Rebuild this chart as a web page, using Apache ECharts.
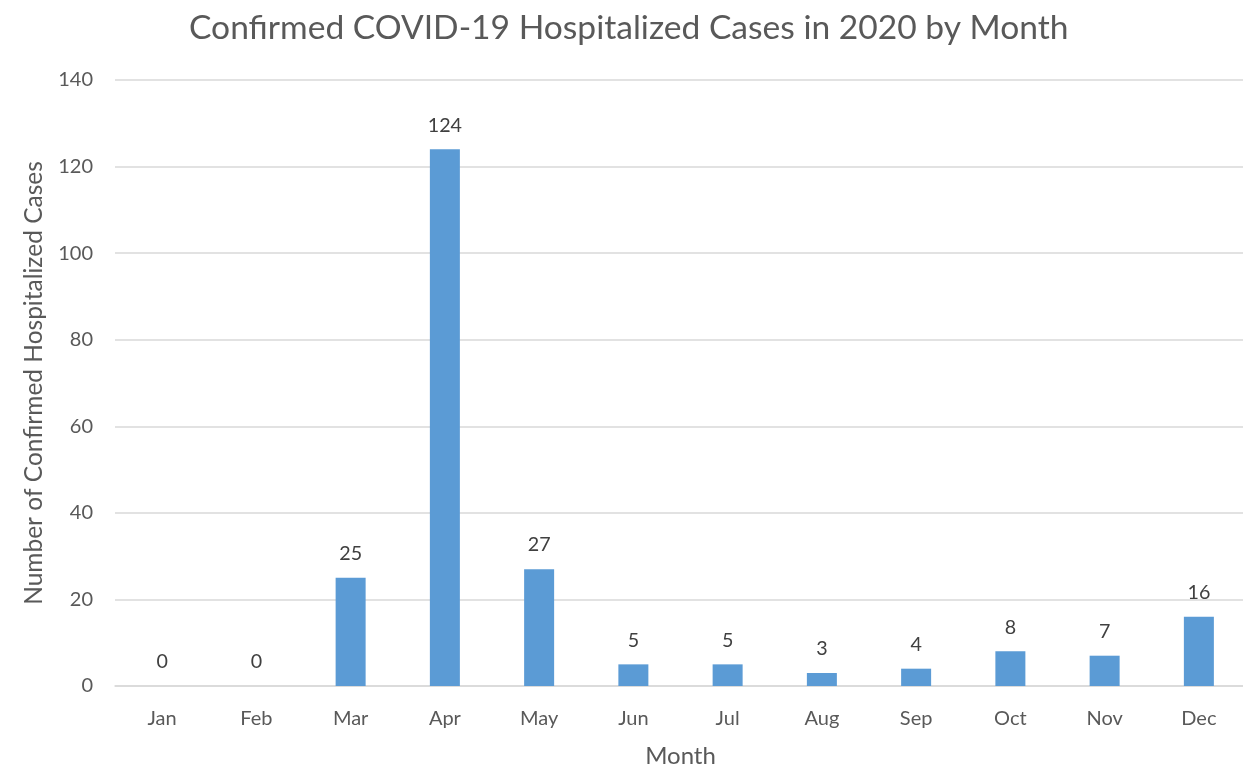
<!DOCTYPE html>
<html>
<head>
<meta charset="utf-8">
<script src="https://cdn.jsdelivr.net/npm/echarts@6/dist/echarts.min.js"></script>
<style>html,body{margin:0;padding:0;background:#fff}#c{width:1243px;height:767px}</style>
</head>
<body>
<div id="c"></div>
<script>
const categories = ['Jan','Feb','Mar','Apr','May','Jun','Jul','Aug','Sep','Oct','Nov','Dec'];
const cases = [0,0,25,124,27,5,5,3,4,8,7,16];
const yTicks = {min:0, max:140, interval:20};

const FONT = 'Lato, "Open Sans", sans-serif';
const chart = echarts.init(document.getElementById('c'));
chart.setOption({
  backgroundColor:'#ffffff',
  animation:false,
  textStyle:{fontFamily:FONT},
  title:{
    text:'Confirmed COVID-19 Hospitalized Cases in 2020 by Month',
    left:184, top:6,
    textStyle:{fontFamily:FONT, fontSize:33.6, fontWeight:'normal', color:'#595959'}
  },
  grid:{left:115, right:-3, top:80, bottom:81, containLabel:false, outerBoundsMode:'none'},
  xAxis:{
    type:'category', data:categories,
    name:'Month', nameLocation:'middle', nameGap:58,
    nameTextStyle:{fontFamily:FONT, fontSize:24, color:'#595959'},
    axisLine:{lineStyle:{color:'#d9d9d9', width:1.5}},
    axisTick:{show:false},
    axisLabel:{fontFamily:FONT, fontSize:20, color:'#595959', margin:23}
  },
  yAxis:{
    type:'value', min:yTicks.min, max:yTicks.max, interval:yTicks.interval,
    name:'Number of Confirmed Hospitalized Cases', nameLocation:'middle', nameGap:68,
    nameTextStyle:{fontFamily:FONT, fontSize:24.5, color:'#595959'},
    axisLine:{show:false}, axisTick:{show:false},
    axisLabel:{fontFamily:FONT, fontSize:20, color:'#595959', margin:22},
    splitLine:{lineStyle:{color:'#d9d9d9', width:1.5}}
  },
  series:[{
    type:'bar', data:cases, barWidth:30,
    itemStyle:{color:'#5B9BD5'},
    label:{show:true, position:'top', distance:14, fontFamily:FONT, fontSize:19.7, color:'#404040'}
  }]
});
</script>
</body>
</html>
